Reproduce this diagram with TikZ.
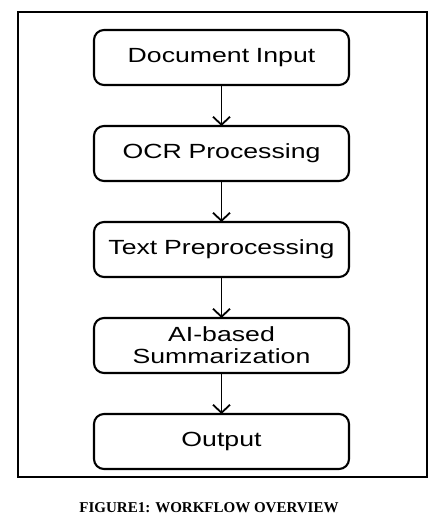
\documentclass[tikz,border=0pt]{standalone}
\usepackage{fontspec}
\setmainfont{Liberation Serif}
\newfontfamily\boxfont[FakeStretch=1.3]{Liberation Sans}
\usepackage{tikz}
\usetikzlibrary{arrows.meta,positioning}

\begin{document}
\begin{tikzpicture}[node distance=41pt, auto]
        \tikzstyle{block} = [rectangle, draw, line width=2.1pt, outer sep=0pt, text width=240pt, align=center, rounded corners=10pt, minimum width=255pt, minimum height=55pt, font=\boxfont\fontsize{20.5}{22}\selectfont]
        \tikzstyle{line} = [draw, line width=1.8pt, -{Straight Barb[length=8pt,width=17pt,line width=1.8pt]}]

        \useasboundingbox (0,0) rectangle (445pt,-523pt);
        \draw[line width=1.3pt] (18pt,-12pt) rectangle (427pt,-477pt);

        \node [block] (input) at (221.5pt,-57.5pt) {Document Input};
        \node [block, below=of input] (ocr) {OCR Processing};
        \node [block, below=of ocr] (prep) {Text Preprocessing};
        \node [block, below=of prep] (summ) {AI-based\\Summarization};
        \node [block, below=of summ] (output) {Output};

        \node [font=\bfseries\fontsize{15}{18}\selectfont] (caption) at (209pt,-508pt) {FIGURE1: WORKFLOW OVERVIEW};

        \path [line] (input) -- (ocr);
        \path [line] (ocr) -- (prep);
        \path [line] (prep) -- (summ);
        \path [line] (summ) -- (output);
    \end{tikzpicture}
\end{document}
